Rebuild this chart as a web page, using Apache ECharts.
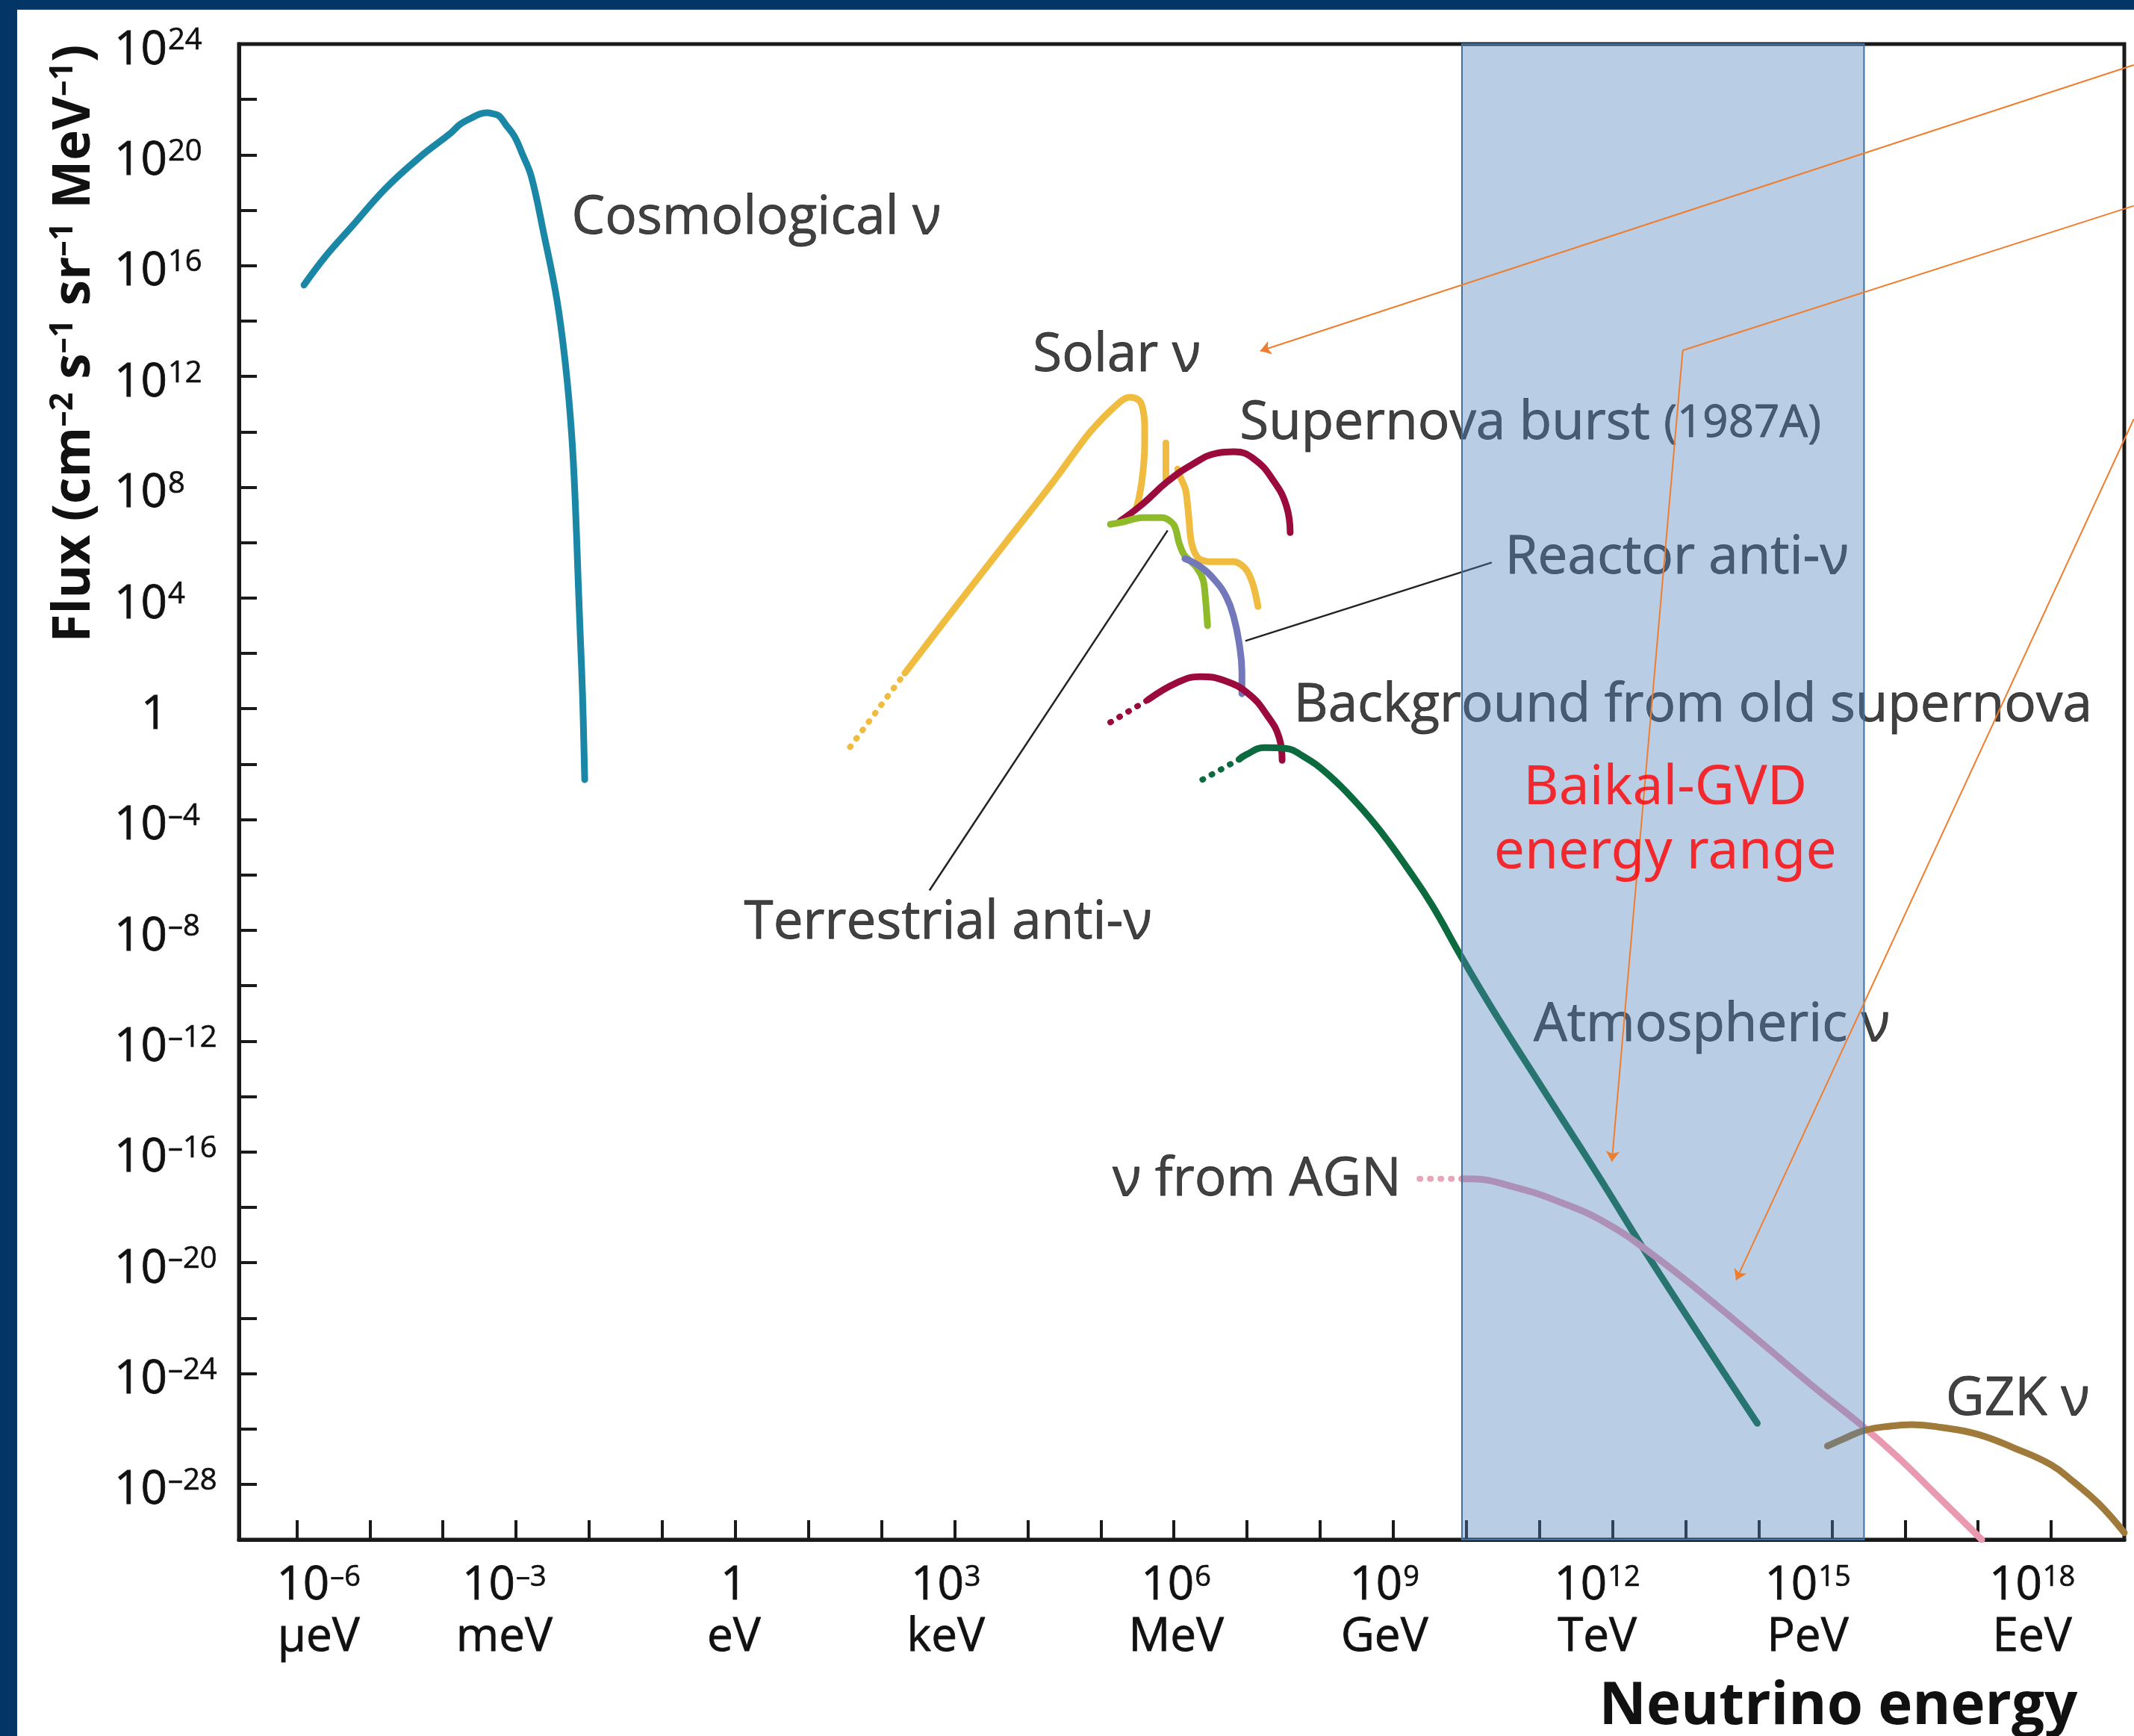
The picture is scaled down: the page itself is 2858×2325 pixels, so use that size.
<!DOCTYPE html>
<html>
<head>
<meta charset="utf-8">
<script src="https://cdn.jsdelivr.net/npm/echarts@6/dist/echarts.min.js"></script>
<style>
  html, body { margin: 0; padding: 0; width: 2858px; height: 2325px; background: #033566; overflow: hidden; }
  #panel { position: absolute; left: 23px; top: 13px; right: 0; bottom: 0; background: #ffffff; }
  #chart { position: absolute; left: 0; top: 0; width: 2858px; height: 2325px; }
</style>
</head>
<body>
<div id="panel"></div>
<div id="chart"></div>
<script>
// Both axes are in decades: x = log10(E / eV), y = log10(flux / cm^-2 s^-1 sr^-1 MeV^-1)

// ---- axis ticks and labels ----
const energyTickAt   = [-6, -5, -4, -3, -2, -1, 0, 1, 2, 3, 4, 5, 6, 7, 8, 9, 10, 11, 12, 13, 14, 15, 16, 17, 18];
const energyExponents = [-6, -3, 0, 3, 6, 9, 12, 15, 18];
const energyUnits     = ['μeV', 'meV', 'eV', 'keV', 'MeV', 'GeV', 'TeV', 'PeV', 'EeV'];
const energyLabelAt   = [-5.70, -3.16, -0.02, 2.88, 6.03, 8.88, 11.79, 14.67, 17.74];
const fluxExponents   = [24, 20, 16, 12, 8, 4, 0, -4, -8, -12, -16, -20, -24, -28];

// ---- spectra ----
const cosmoLogE    = [-5.90, -5.61, -5.25, -4.78, -4.31, -3.90, -3.76, -3.61, -3.49, -3.40, -3.31, -3.23, -3.14, -3.02, -2.91, -2.79, -2.62, -2.44, -2.32, -2.24, -2.19, -2.15, -2.12, -2.09, -2.06];
const cosmoLogFlux = [15.30, 16.32, 17.40, 18.80, 19.93, 20.77, 21.11, 21.33, 21.48, 21.52, 21.48, 21.40, 21.09, 20.66, 20.01, 19.21, 17.16, 14.76, 12.35, 9.95, 7.50, 4.65, 2.59, 0.52, -2.56];

const solarTailLogE    = [1.57, 2.32];
const solarTailLogFlux = [-1.38, 1.29];
const solarLogE        = [2.32, 3.04, 3.69, 4.34, 4.80, 5.00, 5.13, 5.25, 5.33, 5.40, 5.47, 5.54, 5.58, 5.60, 5.60, 5.59, 5.56, 5.52, 5.49];
const solarLogFlux     = [1.29, 3.77, 5.97, 8.17, 9.82, 10.42, 10.76, 11.05, 11.20, 11.25, 11.22, 11.08, 10.75, 10.25, 9.60, 8.95, 8.20, 7.60, 7.30];
const solarLineLogE    = [5.89, 5.89];
const solarLineLogFlux = [9.60, 8.28];
const solarB8LogE      = [6.05, 6.09, 6.16, 6.20, 6.24, 6.33, 6.49, 6.82, 6.98, 7.08, 7.15];
const solarB8LogFlux   = [8.65, 8.35, 7.90, 7.00, 6.00, 5.45, 5.31, 5.31, 5.05, 4.50, 3.69];

const supernovaLogE    = [5.26, 5.57, 5.91, 6.25, 6.59, 6.82, 7.10, 7.37, 7.54, 7.59];
const supernovaLogFlux = [6.77, 7.39, 8.20, 8.82, 9.23, 9.28, 9.01, 8.20, 7.31, 6.36];

const terrestrialLogE    = [5.13, 5.26, 5.57, 5.84, 6.00, 6.07, 6.14, 6.31, 6.40, 6.43, 6.46];
const terrestrialLogFlux = [6.66, 6.72, 6.90, 6.90, 6.64, 5.99, 5.56, 5.10, 4.64, 4.02, 3.00];

const reactorLogE    = [6.15, 6.35, 6.56, 6.72, 6.82, 6.89, 6.93, 6.93];
const reactorLogFlux = [5.42, 5.15, 4.64, 4.02, 3.29, 2.40, 1.32, 0.54];

const relicTailLogE    = [5.13, 5.65];
const relicTailLogFlux = [-0.49, 0.33];
const relicLogE        = [5.65, 6.04, 6.36, 6.69, 7.02, 7.27, 7.44, 7.48];
const relicLogFlux     = [0.33, 0.94, 1.16, 1.02, 0.54, -0.22, -1.05, -1.86];

const atmoTailLogE    = [6.39, 6.89];
const atmoTailLogFlux = [-2.56, -1.83];
const atmoLogE        = [6.89, 6.98, 7.24, 7.52, 7.76, 8.10, 8.51, 8.85, 9.19, 9.53, 9.93, 10.37, 10.98, 11.77, 12.60, 13.98];
const atmoLogFlux     = [-1.83, -1.67, -1.40, -1.43, -1.70, -2.35, -3.43, -4.50, -5.74, -7.09, -8.95, -10.90, -13.45, -16.71, -20.23, -25.80];

const agnTailLogE    = [9.36, 9.94];
const agnTailLogFlux = [-16.97, -16.97];
const agnLogE        = [9.94, 10.12, 10.60, 11.22, 11.91, 12.60, 13.29, 14.04, 14.74, 15.42, 15.91, 16.39, 17.05];
const agnLogFlux     = [-16.97, -16.98, -17.23, -17.75, -18.57, -19.81, -21.25, -22.90, -24.46, -25.90, -27.04, -28.28, -30.00];

const gzkLogE    = [14.94, 15.17, 15.45, 15.80, 16.10, 16.50, 17.00, 17.50, 18.00, 18.30, 18.65, 19.00];
const gzkLogFlux = [-26.62, -26.35, -26.05, -25.90, -25.85, -25.95, -26.20, -26.70, -27.30, -27.90, -28.70, -29.75];

// Baikal-GVD sensitivity window (decades of eV)
const baikalRange = [9.94, 15.44];

// ---- annotations ----
const annotationText = ['Cosmological ν', 'Solar ν', '{m|Supernova burst }{s|(1987A)}', 'Reactor anti-ν',
  'Background from old supernova', 'Terrestrial anti-ν', 'Atmospheric ν', 'ν from AGN', 'GZK ν'];
const annotationAt = [[-2.24, 17.70], [4.07, 12.75], [6.90, 10.28], [10.53, 5.43], [7.64, 0.09],
  [0.12, -7.76], [10.92, -11.45], [5.16, -17.03], [16.56, -24.96]];
const leaderLines = [
  [[5.914, 6.44], [2.656, -6.56]],
  [[6.977, 2.45], [10.347, 5.28]]
];
const pointerArrows = [
  [[19.13, 23.245], [7.181, 12.92]],
  [[12.96, 12.94], [11.99, -16.35]],
  [[19.13, 10.46], [13.69, -20.63]]
];
const pointerPlain = [
  [[19.13, 18.16], [12.96, 12.94]]
];
const baikalText = '{a|Baikal-GVD}\n{a|energy range}';
const baikalAt = [12.72, -4.05];

const FONT = '"Open Sans", "Noto Sans", sans-serif';
const INK = '#111111';
// a hairline outline in the text colour gives the glyphs a little more weight
const HEAVY = { textBorderColor: INK, textBorderWidth: 0.8 };

function pairs(xs, ys) { return xs.map((x, i) => [x, ys[i]]); }

function curve(name, xs, ys, color, extra) {
  const s = {
    type: 'line', name: name, data: pairs(xs, ys),
    symbol: 'none', showSymbol: false, smooth: 0.35, z: 3, silent: true,
    lineStyle: { color: color, width: 9, cap: 'round', join: 'round' }
  };
  return Object.assign(s, extra || {});
}
function dotted(name, xs, ys, color) {
  return curve(name, xs, ys, color, {
    smooth: false,
    lineStyle: { color: color, width: 8, cap: 'round', type: [1, 13] }
  });
}

function supText(e) { return e < 0 ? '–' + (-e) : String(e); }
function txt(size, extra) {
  return Object.assign({ fontSize: size, fontFamily: FONT, color: INK }, HEAVY, extra || {});
}

const chart = echarts.init(document.getElementById('chart'), null, { renderer: 'canvas' });

const option = {
  animation: false,
  backgroundColor: 'transparent',
  grid: {
    left: 320, top: 59, right: 13, bottom: 263,
    show: true, borderColor: '#1a1a1a', borderWidth: 5,
    containLabel: false, outerBoundsMode: 'none'
  },
  xAxis: {
    type: 'value', min: -6.79, max: 19,
    axisLine: { show: true, onZero: false, lineStyle: { color: '#1a1a1a', width: 5 } },
    axisTick: { show: true, inside: true, length: 26, customValues: energyTickAt, lineStyle: { color: '#1a1a1a', width: 4 } },
    splitLine: { show: false },
    axisLabel: {
      show: true, margin: 28, customValues: energyLabelAt, hideOverlap: false,
      color: INK, fontFamily: FONT,
      formatter: function (v) {
        let k = 0, best = Infinity;
        energyLabelAt.forEach((p, i) => { const d = Math.abs(p - v); if (d < best) { best = d; k = i; } });
        const e = energyExponents[k];
        const top = e === 0 ? '{b|1}' : '{b|10}{s|' + supText(e) + '}';
        return top + '\n{u|' + energyUnits[k] + '}';
      },
      rich: {
        b: txt(62, { lineHeight: 69 }),
        s: txt(38, { lineHeight: 38, verticalAlign: 'top', padding: [4, 0, 0, 1], textBorderWidth: 0.6 }),
        u: txt(62, { lineHeight: 69 })
      }
    }
  },
  yAxis: {
    type: 'value', min: -30, max: 24, interval: 2,
    axisLine: { show: true, onZero: false, lineStyle: { color: '#1a1a1a', width: 5 } },
    axisTick: { show: true, inside: true, length: 24, lineStyle: { color: '#1a1a1a', width: 4 } },
    splitLine: { show: false },
    axisLabel: {
      show: true, margin: 167, align: 'left', padding: [18, 0, 0, 0], hideOverlap: false,
      color: INK, fontFamily: FONT,
      formatter: function (v) {
        if (fluxExponents.indexOf(v) < 0) return '';
        if (v === 0) return '{one|1}';
        return '{b|10}{s|' + supText(v) + '}';
      },
      rich: {
        b: txt(62, { lineHeight: 70 }),
        s: txt(40, { lineHeight: 40, verticalAlign: 'top', padding: [2, 0, 0, 1], textBorderWidth: 0.6 }),
        one: txt(62, { lineHeight: 70, padding: [0, 0, 0, 36] })
      }
    }
  },
  graphic: [
    {
      type: 'text', x: 100, y: 460, rotation: Math.PI / 2, z: 10,
      style: {
        text: '{t|Flux (cm}{p|–2}{t| s}{p|–1}{t| sr}{p|–1}{t| MeV}{p|–1}{t|)}',
        align: 'center', verticalAlign: 'middle',
        rich: {
          t: { fontSize: 69, lineHeight: 82, fontWeight: 'bold', fontFamily: FONT, fill: '#111111' },
          p: { fontSize: 43, lineHeight: 43, fontWeight: 'bold', fontFamily: FONT, fill: '#111111', verticalAlign: 'top', padding: [4, 0, 0, 0] }
        }
      }
    },
    {
      type: 'text', x: 2462, y: 2287, z: 10,
      style: {
        text: 'Neutrino energy', align: 'center', verticalAlign: 'middle',
        fontSize: 78, fontWeight: 'bold', fontFamily: FONT, fill: '#111111'
      }
    }
  ],
  series: [
    curve('Cosmological ν', cosmoLogE, cosmoLogFlux, '#1b87a6', { smooth: 0.4 }),
    dotted('Solar ν (low)', solarTailLogE, solarTailLogFlux, '#efbc3f'),
    curve('Solar ν', solarLogE, solarLogFlux, '#efbc3f', { smooth: 0.35 }),
    curve('Solar ν line', solarLineLogE, solarLineLogFlux, '#efbc3f', { smooth: false }),
    curve('Solar ν 8B', solarB8LogE, solarB8LogFlux, '#efbc3f', { smooth: 0.3 }),
    curve('Supernova burst', supernovaLogE, supernovaLogFlux, '#9b0a3d', { smooth: 0.45 }),
    curve('Terrestrial anti-ν', terrestrialLogE, terrestrialLogFlux, '#8fba2a', { smooth: 0.3 }),
    curve('Reactor anti-ν', reactorLogE, reactorLogFlux, '#7378bb', { smooth: 0.45 }),
    dotted('Old supernova (low)', relicTailLogE, relicTailLogFlux, '#9b0a3d'),
    curve('Background from old supernova', relicLogE, relicLogFlux, '#9b0a3d', { smooth: 0.45 }),
    dotted('Atmospheric ν (low)', atmoTailLogE, atmoTailLogFlux, '#0c6b3e'),
    curve('Atmospheric ν', atmoLogE, atmoLogFlux, '#0c6b3e', { smooth: 0.45 }),
    dotted('ν from AGN (low)', agnTailLogE, agnTailLogFlux, '#eaa6b9'),
    curve('ν from AGN', agnLogE, agnLogFlux, '#e99ab0', { smooth: 0.45 }),
    curve('GZK ν', gzkLogE, gzkLogFlux, '#a07a3a', { smooth: 0.45 }),
    {
      type: 'lines', name: 'leaders', coordinateSystem: 'cartesian2d', z: 3, silent: true, clip: false,
      symbol: 'none',
      lineStyle: { color: '#222222', width: 2.5, opacity: 1 },
      data: leaderLines.map(c => ({ coords: c }))
    },
    {
      type: 'scatter', name: 'annotations', z: 4, silent: true, symbolSize: 0,
      data: annotationAt.map((p, i) => ({ value: p, label: { formatter: annotationText[i] } })),
      label: Object.assign({
        show: true, position: [0, 0], align: 'left', verticalAlign: 'middle',
        fontSize: 71, fontFamily: FONT, color: INK,
        rich: { m: txt(71), s: txt(60) }
      }, HEAVY)
    },
    {
      type: 'custom', name: 'Baikal-GVD energy range', z: 6, silent: true, clip: false,
      data: [baikalRange],
      renderItem: function (params, api) {
        const p0 = api.coord([api.value(0), 24]);
        const p1 = api.coord([api.value(1), -30]);
        return {
          type: 'rect',
          shape: { x: p0[0], y: p0[1], width: p1[0] - p0[0], height: p1[1] - p0[1] },
          style: { fill: 'rgba(79,129,189,0.4)', stroke: '#41719c', lineWidth: 2 }
        };
      }
    },
    {
      type: 'scatter', name: 'Baikal label', z: 9, silent: true, symbolSize: 0,
      data: [{ value: baikalAt }],
      label: {
        show: true, position: [0, 0], align: 'center', verticalAlign: 'middle',
        formatter: baikalText,
        rich: { a: { fontSize: 73, lineHeight: 86, fontFamily: '"Noto Sans", sans-serif', color: '#ff0000', align: 'center' } }
      }
    },
    {
      type: 'lines', name: 'pointers', coordinateSystem: 'cartesian2d', z: 8, silent: true, clip: false,
      symbol: ['none', 'arrow'], symbolSize: 14,
      lineStyle: { color: '#ef7d2e', width: 2, opacity: 1 },
      data: pointerArrows.map(c => ({ coords: c }))
    },
    {
      type: 'lines', name: 'pointers (bend)', coordinateSystem: 'cartesian2d', z: 8, silent: true, clip: false,
      symbol: 'none',
      lineStyle: { color: '#ef7d2e', width: 2, opacity: 1 },
      data: pointerPlain.map(c => ({ coords: c }))
    }
  ]
};

chart.setOption(option);
</script>
</body>
</html>
